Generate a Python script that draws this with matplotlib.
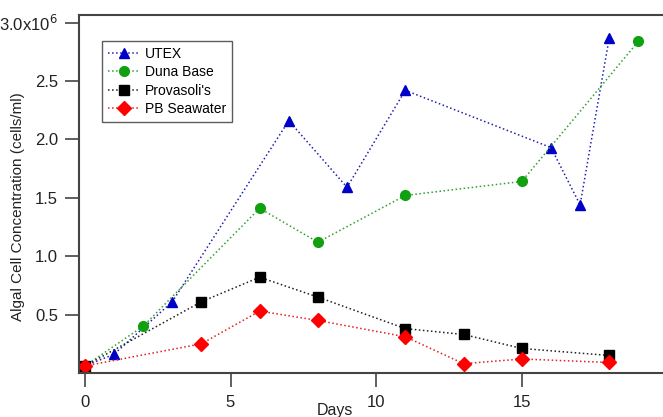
import matplotlib
matplotlib.use("Agg")
import matplotlib.pyplot as plt
from matplotlib.ticker import FixedLocator

plt.rcParams['font.family'] = ['Liberation Sans', 'DejaVu Sans']

# growth data, cells/ml in units of 1e6
utex_days = [0, 1, 3, 7, 9, 11, 16, 17, 18]
utex_conc = [0.06, 0.16, 0.61, 2.16, 1.59, 2.42, 1.93, 1.44, 2.87]

duna_days = [0, 2, 6, 8, 11, 15, 19]
duna_conc = [0.06, 0.40, 1.41, 1.12, 1.52, 1.64, 2.84]

prov_days = [0, 4, 6, 8, 11, 13, 15, 18]
prov_conc = [0.06, 0.61, 0.82, 0.65, 0.38, 0.33, 0.21, 0.15]

pb_days = [0, 4, 6, 8, 11, 13, 15, 18]
pb_conc = [0.06, 0.25, 0.53, 0.45, 0.31, 0.08, 0.12, 0.09]

y_ticks = [0.5, 1.0, 1.5, 2.0, 2.5, 3.0]
y_tick_labels = ["0.5", "1.0", "1.5", "2.0", "2.5", "3.0x10$^6$"]
x_ticks = [0, 5, 10, 15]

W, H = 663, 417
fig = plt.figure(figsize=(W / 100, H / 100), dpi=100)
# frame runs off the right edge of the figure
left, bottom, top = 79, 373, 15
ax_w = 1.02 * W - left
ax_h = bottom - top
ax = fig.add_axes([left / W, 1 - bottom / H, ax_w / W, ax_h / H])

ax.plot(utex_days, utex_conc, ls=':', lw=1.1, color='#2020b0', marker='^',
        ms=7, mfc='#0000c8', mec='#0000c8', label='UTEX')
ax.plot(duna_days, duna_conc, ls=':', lw=1.1, color='#30a030', marker='o',
        ms=7, mfc='#10a010', mec='#10a010', label='Duna Base')
ax.plot(prov_days, prov_conc, ls=':', lw=1.1, color='#202020', marker='s',
        ms=6.5, mfc='black', mec='black', label="Provasoli's")
ax.plot(pb_days, pb_conc, ls=':', lw=1.1, color='#e02020', marker='D',
        ms=7, mfc='#ff0000', mec='#ff0000', label='PB Seawater')

ax.set_xlim(-0.2, 20.3)
ax.set_ylim(0, 3.065)
ax.xaxis.set_major_locator(FixedLocator(x_ticks))
ax.set_yticks(y_ticks)
ax.set_yticklabels(y_tick_labels)

for side in ['left', 'bottom', 'top']:
    ax.spines[side].set_color('#444444')
    ax.spines[side].set_linewidth(1.5)
ax.spines['right'].set_visible(False)
ax.tick_params(direction='out', length=10, width=1.2, color='#444444',
               labelsize=12, labelcolor='#222222', pad=5)
ax.tick_params(axis='x', pad=6)

ax.set_xlabel('Days', fontsize=11.5, color='#222222')
ax.xaxis.set_label_coords((335 - left) / ax_w, (bottom - 403) / ax_h)
ax.set_ylabel('Algal Cell Concentration (cells/ml)', fontsize=11, color='#222222')
ax.yaxis.set_label_coords((25 - left) / ax_w, (bottom - 207) / ax_h)

leg = ax.legend(loc='upper left',
                bbox_to_anchor=((102 - left) / ax_w, (bottom - 41) / ax_h),
                fontsize=10, frameon=True, fancybox=False, edgecolor='#333333',
                handlelength=2.3, handletextpad=0.4, labelspacing=0.33,
                borderpad=0.4, borderaxespad=0)
leg.get_frame().set_linewidth(1.0)

fig.savefig('out.png', dpi=100)
